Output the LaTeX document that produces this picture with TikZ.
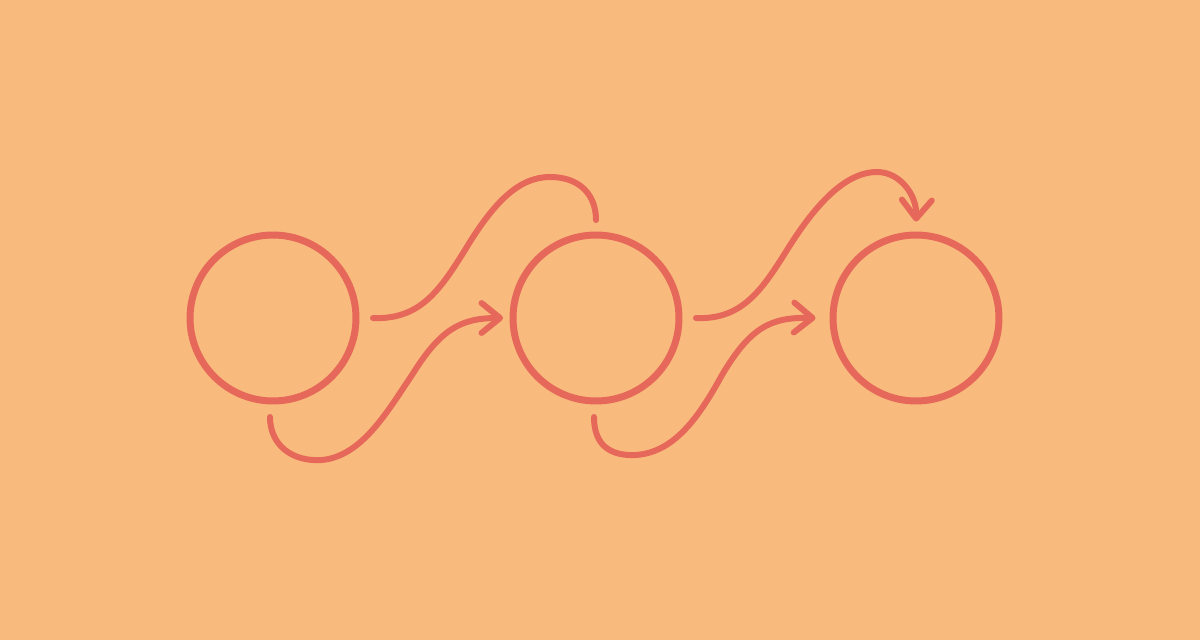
\documentclass[tikz,border=0pt]{standalone}
\usepackage{tikz}
\usetikzlibrary{arrows.meta}
\definecolor{bgorange}{HTML}{F9BB7D}
\definecolor{ringred}{HTML}{E6685A}

\begin{document}
\begin{tikzpicture}[x=0.02cm, y=-0.02cm,
    ring/.style={shape=circle, draw=ringred, line width=0.14cm, minimum size=3.32cm, inner sep=0pt},
    link/.style={draw=ringred, line width=0.12cm, line cap=round},
    tip/.style={-{Straight Barb[length=10.5pt,width=17pt,round]}}]
     \fill[bgorange] (0,0) rectangle (1200,640);
     \useasboundingbox (0,0) rectangle (1200,640);
     \path (273,318) node [ring] (c1) {}
           (596,318) node [ring] (c2) {}
           (916,318) node [ring] (c3) {}
     ;
     % upper links
     \draw[link] ([xshift=0.27cm]c1.east) .. controls (420,320) and (440,290) .. (465,250)
           .. controls (495,200) and (520,177) .. (550,177)
           .. controls (580,177) and (596,195) .. ([yshift=0.23cm]c2.north);
     \draw[link,tip] ([xshift=0.27cm]c2.east) .. controls (742,320) and (762,290) .. (787,250)
           .. controls (815,205) and (845,172) .. (877,172)
           .. controls (900,172) and (917,195) .. ([yshift=0.2cm]c3.north);
     % lower links
     \draw[link,tip] ([xshift=-0.06cm,yshift=-0.25cm]c1.south) .. controls (270,445) and (292,462) .. (322,460)
           .. controls (362,456) and (387,412) .. (412,375)
           .. controls (440,330) and (460,318) .. ([xshift=-0.13cm]c2.west);
     \draw[link,tip] ([xshift=-0.04cm,yshift=-0.25cm]c2.south) .. controls (594,445) and (610,456) .. (635,455)
           .. controls (675,453) and (700,415) .. (722,375)
           .. controls (750,328) and (770,317) .. ([xshift=-0.28cm]c3.west);
  \end{tikzpicture}
\end{document}
